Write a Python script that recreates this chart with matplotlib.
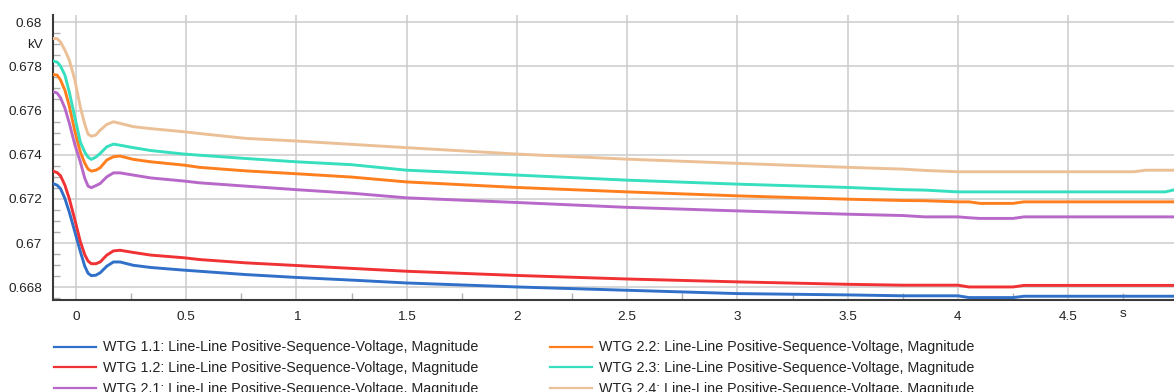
import matplotlib
matplotlib.use("Agg")
import matplotlib.pyplot as plt
from matplotlib.ticker import MultipleLocator, FixedLocator

plt.rcParams["font.family"] = ["Liberation Sans", "DejaVu Sans"]

# Simulation time (s)
time_s = [-0.104, -0.085, -0.07, -0.05, -0.03, -0.005, 0.02, 0.04, 0.055, 0.07,
          0.09, 0.11, 0.14, 0.17, 0.20, 0.26, 0.34, 0.49, 0.56, 0.77,
          1.0, 1.25, 1.5, 2.0, 2.5, 3.0, 3.5, 3.75, 3.85, 4.0,
          4.05, 4.1, 4.25, 4.3, 4.8, 4.85, 4.94, 4.98]

# Line-line positive-sequence voltage magnitude per turbine (kV)
wtg_1_1 = [0.67270, 0.67262, 0.67247, 0.67202, 0.67140, 0.67052, 0.66962, 0.66896, 0.66864, 0.66853,
           0.66855, 0.66866, 0.66896, 0.66915, 0.66915, 0.66900, 0.66890, 0.66878, 0.66873, 0.66858,
           0.66845, 0.66833, 0.66820, 0.66802, 0.66787, 0.66772, 0.66766, 0.66762, 0.66762, 0.66762,
           0.66754, 0.66754, 0.66754, 0.66760, 0.66760, 0.66760, 0.66760, 0.66760]
wtg_1_2 = [0.67326, 0.67319, 0.67305, 0.67262, 0.67201, 0.67106, 0.67007, 0.66948, 0.66919, 0.66907,
           0.66907, 0.66915, 0.66946, 0.66965, 0.66968, 0.66958, 0.66946, 0.66934, 0.66926, 0.66911,
           0.66899, 0.66886, 0.66873, 0.66854, 0.66838, 0.66825, 0.66814, 0.66810, 0.66810, 0.66810,
           0.66802, 0.66802, 0.66802, 0.66809, 0.66809, 0.66809, 0.66809, 0.66809]
wtg_2_1 = [0.67685, 0.67679, 0.67658, 0.67611, 0.67543, 0.67446, 0.67367, 0.67294, 0.67258, 0.67251,
           0.67260, 0.67270, 0.67300, 0.67318, 0.67318, 0.67308, 0.67295, 0.67281, 0.67273, 0.67258,
           0.67242, 0.67226, 0.67205, 0.67184, 0.67162, 0.67146, 0.67131, 0.67125, 0.67119, 0.67119,
           0.67115, 0.67112, 0.67112, 0.67119, 0.67119, 0.67119, 0.67119, 0.67119]
wtg_2_2 = [0.67763, 0.67760, 0.67738, 0.67692, 0.67620, 0.67507, 0.67412, 0.67362, 0.67335, 0.67326,
           0.67330, 0.67341, 0.67376, 0.67391, 0.67394, 0.67379, 0.67368, 0.67353, 0.67343, 0.67327,
           0.67314, 0.67299, 0.67277, 0.67252, 0.67232, 0.67214, 0.67199, 0.67193, 0.67192, 0.67187,
           0.67187, 0.67180, 0.67180, 0.67187, 0.67187, 0.67187, 0.67187, 0.67187]
wtg_2_3 = [0.67824, 0.67819, 0.67801, 0.67760, 0.67683, 0.67570, 0.67457, 0.67412, 0.67389, 0.67379,
           0.67389, 0.67406, 0.67436, 0.67448, 0.67443, 0.67432, 0.67419, 0.67403, 0.67398, 0.67383,
           0.67368, 0.67355, 0.67330, 0.67308, 0.67285, 0.67267, 0.67252, 0.67242, 0.67240, 0.67232,
           0.67232, 0.67232, 0.67232, 0.67232, 0.67232, 0.67232, 0.67232, 0.67241]
wtg_2_4 = [0.67926, 0.67925, 0.67910, 0.67873, 0.67828, 0.67738, 0.67615, 0.67538, 0.67493, 0.67484,
           0.67489, 0.67511, 0.67537, 0.67549, 0.67542, 0.67527, 0.67518, 0.67504, 0.67496, 0.67474,
           0.67462, 0.67447, 0.67432, 0.67403, 0.67380, 0.67361, 0.67343, 0.67335, 0.67329, 0.67323,
           0.67323, 0.67323, 0.67323, 0.67323, 0.67323, 0.67330, 0.67330, 0.67330]

series = [wtg_1_1, wtg_1_2, wtg_2_1, wtg_2_2, wtg_2_3, wtg_2_4]
names = ["WTG 1.1", "WTG 1.2", "WTG 2.1", "WTG 2.2", "WTG 2.3", "WTG 2.4"]
quantity = "Line-Line Positive-Sequence-Voltage, Magnitude"
colors = ["#3070c8", "#f03234", "#b868c8", "#ff7f1e", "#36dfbd", "#ecc096"]

x_ticks = [0, 0.5, 1, 1.5, 2, 2.5, 3, 3.5, 4, 4.5]
x_tick_labels = ["0", "0.5", "1", "1.5", "2", "2.5", "3", "3.5", "4", "4.5"]
y_ticks = [0.668, 0.67, 0.672, 0.674, 0.676, 0.678, 0.68]
y_tick_labels = ["0.668", "0.67", "0.672", "0.674", "0.676", "0.678", "0.68"]

W, H = 1174, 392
fig = plt.figure(figsize=(W / 100, H / 100), dpi=100)
ax = fig.add_axes([53 / W, 1 - 300 / H, 1 - 53 / W, 285 / H])

for vals, name, col in zip(series, names, colors):
    ax.plot(time_s, vals, color=col, lw=2.1, solid_joinstyle="round",
            label=f"{name}: {quantity}", zorder=3)

ax.set_xlim(-0.104, 4.98)
ax.set_ylim(0.66743, 0.68032)

ax.xaxis.set_major_locator(FixedLocator(x_ticks))
ax.set_xticklabels(x_tick_labels)
ax.yaxis.set_major_locator(FixedLocator(y_ticks))
ax.set_yticklabels(y_tick_labels)
ax.xaxis.set_minor_locator(MultipleLocator(0.25))
ax.yaxis.set_minor_locator(MultipleLocator(0.0005))

ax.tick_params(which="major", length=0, labelsize=9.7, labelcolor="#222222")
ax.tick_params(axis="x", which="major", pad=8)
ax.tick_params(axis="y", which="major", pad=8)
ax.tick_params(which="minor", direction="in", length=5, width=1, color="#b0b0b0")

ax.grid(True, which="major", color="#cccccc", lw=1.1, zorder=0)
ax.set_axisbelow(True)

for side in ("top", "right"):
    ax.spines[side].set_visible(False)
for side in ("left", "bottom"):
    ax.spines[side].set_color("#3a3a3a")
    ax.spines[side].set_linewidth(1.5)

# Unit labels placed in the tick-label rows
ax.annotate("kV", xy=(0, 0.67895), xycoords=("axes fraction", "data"),
            xytext=(-7, 0), textcoords="offset points",
            ha="right", va="center", fontsize=9.7, color="#222222")
ax.annotate("s", xy=(4.75, 0), xycoords=("data", "axes fraction"),
            xytext=(0, -6), textcoords="offset points",
            ha="center", va="top", fontsize=9.7, color="#222222")

handles, labels = ax.get_legend_handles_labels()
leg = fig.legend(handles, labels, ncol=2, loc="upper left",
                 bbox_to_anchor=(54 / W, 1 - 340.5 / H), frameon=False,
                 fontsize=10.25, handlelength=2.95, handletextpad=0.5,
                 columnspacing=5.02, labelspacing=0.47, borderpad=0,
                 borderaxespad=0)
for ln in leg.get_lines():
    ln.set_linewidth(1.6)
for t in leg.get_texts():
    t.set_color("#222222")

fig.savefig("out.png", dpi=100)
